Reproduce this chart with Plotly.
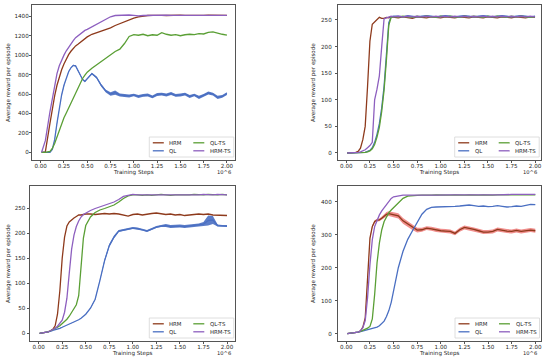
import plotly.graph_objects as go

# ---------------- data (x in units of 1e6 training steps) ----------------
STEPS = [0.01, 0.05, 0.10, 0.125, 0.15, 0.175, 0.20, 0.225, 0.25, 0.275, 0.30, 0.325,
         0.35, 0.375, 0.40, 0.425, 0.45, 0.475, 0.50, 0.55, 0.60, 0.65, 0.70, 0.75,
         0.80, 0.85, 0.90, 0.95, 1.00, 1.05, 1.10, 1.15, 1.20, 1.25, 1.30, 1.35, 1.40,
         1.45, 1.50, 1.55, 1.60, 1.65, 1.70, 1.75, 1.80, 1.85, 1.90, 1.95, 2.00]

SERIES = ["HRM", "QL", "QL-TS", "HRM-TS"]

# Panel 1 (top-left)
P1_HRM = [0, 5, 300, 450, 580, 690, 780, 850, 910, 960, 1005, 1040, 1070, 1095, 1112, 1132,
          1152, 1170, 1188, 1215, 1232, 1245, 1262, 1280, 1305, 1325, 1345, 1365, 1382, 1395,
          1405, 1408, 1410, 1412, 1410, 1408, 1411, 1410, 1412, 1409, 1411, 1410, 1412, 1410,
          1411, 1409, 1412, 1410, 1410]
P1_QL = [0, 0, 0, 30, 130, 300, 450, 590, 690, 770, 830, 870, 895, 890, 840, 790, 750, 730,
         760, 810, 770, 690, 630, 600, 615, 590, 585, 580, 590, 575, 585, 590, 570, 595, 600,
         590, 605, 585, 590, 600, 575, 590, 565, 585, 610, 600, 565, 575, 605]
P1_QLTS = [0, 0, 10, 40, 90, 160, 230, 300, 355, 405, 455, 510, 565, 620, 670, 715, 760, 795,
           825, 865, 900, 935, 975, 1008, 1038, 1062, 1120, 1192, 1212, 1205, 1215, 1200, 1210,
           1205, 1232, 1215, 1205, 1212, 1200, 1210, 1215, 1212, 1222, 1218, 1235, 1240, 1225,
           1215, 1205]
P1_HRMTS = [0, 120, 420, 560, 700, 810, 890, 950, 1000, 1045, 1085, 1120, 1150, 1180, 1200,
            1220, 1240, 1255, 1265, 1290, 1320, 1345, 1370, 1395, 1408, 1412, 1414, 1413, 1410,
            1405, 1408, 1410, 1411, 1410, 1409, 1411, 1410, 1410, 1411, 1409, 1410, 1411, 1410,
            1410, 1411, 1410, 1409, 1410, 1410]
P1_QL_SPREAD = [0, 0, 0, 3, 5, 6, 6, 6, 6, 6, 6, 6, 6, 6, 6, 8, 8, 8, 8, 10, 10, 12, 14, 18,
                22, 16, 14, 16, 14, 16, 14, 16, 14, 16, 14, 16, 16, 14, 16, 14, 16, 14, 16, 14,
                16, 14, 16, 14, 14]

# Panel 2 (top-right)
P2_HRM = [0, 0, 1, 3, 9, 25, 50, 125, 210, 242, 246, 250, 255, 253, 253, 255, 254, 256, 255,
          254, 256, 255, 253, 256, 255, 254, 256, 255, 254, 256, 255, 254, 256, 255, 254, 256,
          255, 254, 256, 255, 254, 256, 255, 254, 256, 255, 254, 256, 255]
P2_QL = [0, 0, 0, 0, 0, 1, 1, 3, 5, 10, 20, 35, 55, 85, 125, 185, 245, 256, 257, 257, 256,
         258, 257, 256, 257, 258, 257, 256, 257, 258, 257, 256, 257, 258, 257, 256, 257, 258,
         257, 256, 257, 258, 257, 256, 257, 258, 257, 256, 257]
P2_QLTS = [0, 0, 0, 0, 0, 0, 1, 2, 4, 8, 16, 30, 48, 78, 118, 175, 240, 255, 256, 256, 257,
           256, 255, 257, 256, 257, 256, 255, 257, 256, 257, 256, 255, 257, 256, 257, 256, 255,
           257, 256, 257, 256, 255, 257, 256, 257, 256, 255, 256]
P2_HRMTS = [0, 0, 0, 1, 2, 4, 6, 10, 14, 20, 100, 120, 145, 200, 252, 254, 256, 257, 256, 257,
            256, 257, 256, 257, 256, 257, 256, 257, 256, 257, 256, 257, 256, 257, 256, 257, 256,
            257, 256, 257, 256, 257, 256, 257, 256, 257, 256, 257, 256]

# Panel 3 (bottom-left)
P3_HRM = [0, 1, 3, 5, 8, 15, 38, 85, 150, 192, 214, 222, 227, 230, 233, 236, 236, 237, 238,
          238, 237, 238, 239, 238, 239, 238, 236, 234, 237, 238, 236, 238, 239, 240, 238, 237,
          238, 236, 237, 235, 236, 237, 238, 237, 238, 236, 236, 235, 235]
P3_QL = [0, 1, 3, 4, 6, 7, 9, 10, 12, 14, 16, 18, 20, 22, 24, 27, 30, 34, 38, 50, 68, 105,
         145, 175, 192, 204, 206, 208, 210, 209, 207, 204, 208, 212, 214, 215, 213, 214, 214,
         213, 214, 215, 216, 218, 225, 226, 215, 214, 214]
P3_QLTS = [0, 1, 3, 5, 7, 9, 12, 15, 19, 23, 28, 34, 41, 48, 57, 75, 125, 190, 215, 232, 241,
           246, 249, 253, 256, 262, 269, 274, 276, 276, 275, 276, 275, 276, 277, 276, 275, 276,
           276, 275, 276, 277, 276, 276, 277, 276, 276, 277, 276]
P3_HRMTS = [0, 1, 3, 5, 7, 10, 14, 19, 26, 42, 70, 120, 168, 196, 213, 224, 232, 237, 240,
            245, 249, 252, 255, 258, 262, 267, 273, 275, 277, 276, 276, 275, 275, 276, 276, 275,
            276, 276, 275, 276, 276, 275, 276, 277, 276, 276, 277, 276, 276]
P3_QL_SPREAD = [0, 0, 0, 0, 0, 0, 0, 0, 0, 0, 0, 0, 0, 0, 0, 0, 0, 0, 0, 1, 1, 2, 3, 3, 3, 2,
                2, 2, 2, 2, 2, 2, 2, 2, 2, 3, 3, 3, 3, 3, 3, 3, 3, 4, 10, 8, 2, 2, 2]

# Panel 4 (bottom-right)
P4_HRM = [0, 1, 3, 5, 9, 20, 48, 160, 290, 325, 340, 344, 345, 350, 357, 362, 364, 362, 360,
          357, 342, 332, 322, 314, 315, 320, 318, 314, 312, 311, 310, 304, 315, 322, 320, 316,
          312, 308, 308, 310, 316, 313, 311, 310, 313, 310, 312, 314, 312]
P4_QL = [0, 1, 3, 5, 6, 8, 10, 11, 12, 14, 17, 20, 24, 30, 38, 52, 70, 95, 130, 200, 250, 286,
         312, 338, 362, 377, 383, 384, 384, 385, 386, 386, 387, 389, 390, 388, 386, 387, 385,
         386, 388, 386, 384, 385, 387, 386, 390, 392, 391]
P4_QLTS = [0, 1, 3, 5, 7, 10, 13, 17, 22, 45, 120, 215, 275, 315, 340, 355, 367, 375, 382, 396,
           410, 417, 419, 419, 420, 419, 420, 421, 420, 419, 420, 421, 420, 420, 421, 420, 420,
           421, 420, 420, 421, 420, 421, 421, 420, 421, 421, 422, 421]
P4_HRMTS = [0, 1, 3, 5, 9, 18, 40, 110, 210, 285, 325, 345, 360, 372, 382, 392, 402, 410, 415,
            418, 420, 420, 419, 420, 420, 421, 420, 420, 421, 420, 421, 421, 420, 421, 421, 420,
            421, 421, 422, 421, 421, 422, 421, 422, 422, 421, 422, 422, 422]
P4_HRM_SPREAD = [0, 0, 0, 0, 0, 1, 2, 3, 4, 4, 4, 4, 4, 5, 6, 7, 7, 7, 7, 8, 9, 9, 8, 7, 6, 6,
                 6, 6, 6, 6, 6, 6, 6, 6, 6, 6, 6, 6, 6, 6, 6, 6, 6, 6, 6, 6, 6, 6, 6]

X_TICKS = [0.0, 0.25, 0.5, 0.75, 1.0, 1.25, 1.5, 1.75, 2.0]

# ---------------- styling ----------------
W, H = 550, 362
LINE = {"HRM": "#8e3a1c", "QL": "#4a6fc2", "QL-TS": "#5a9f35", "HRM-TS": "#8d5fbf"}
BAND = {"HRM": "rgba(228,50,45,0.55)", "QL": "rgba(74,111,194,0.9)",
        "QL-TS": "rgba(90,159,53,0.8)", "HRM-TS": "rgba(141,95,191,0.6)"}
FONT = "DejaVu Sans"
TXT = "#262626"
FS = 5.6


def px(x):
    return x / W


def py(y):
    return 1 - y / H


panels = [
    dict(box=(32.3, 5.3, 235.3, 160.0), xr=[-0.09, 2.09], yr=[-79, 1513],
         yt=[0, 200, 400, 600, 800, 1000, 1200, 1400], ystand=-1, ytitle=3,
         data={"HRM": P1_HRM, "QL": P1_QL, "QL-TS": P1_QLTS, "HRM-TS": P1_HRMTS},
         spread={"QL": P1_QL_SPREAD}),
    dict(box=(338.3, 5.3, 540.7, 160.0), xr=[-0.085, 2.06], yr=[-13.2, 277.6],
         yt=[0, 50, 100, 150, 200, 250], ystand=2, ytitle=5,
         data={"HRM": P2_HRM, "QL": P2_QL, "QL-TS": P2_QLTS, "HRM-TS": P2_HRMTS},
         spread={}),
    dict(box=(30.0, 186.3, 235.3, 341.0), xr=[-0.092, 2.088], yr=[-15.4, 293.3],
         yt=[0, 50, 100, 150, 200, 250], ystand=0, ytitle=3,
         data={"HRM": P3_HRM, "QL": P3_QL, "QL-TS": P3_QLTS, "HRM-TS": P3_HRMTS},
         spread={"QL": P3_QL_SPREAD}),
    dict(box=(338.3, 186.3, 541.0, 341.0), xr=[-0.085, 2.06], yr=[-22.1, 446.7],
         yt=[0, 100, 200, 300, 400], ystand=2, ytitle=5,
         data={"HRM": P4_HRM, "QL": P4_QL, "QL-TS": P4_QLTS, "HRM-TS": P4_HRMTS},
         spread={"HRM": P4_HRM_SPREAD}),
]

fig = go.Figure()
shapes = []
annotations = []

for i, p in enumerate(panels, start=1):
    sfx = "" if i == 1 else str(i)
    xa, ya = "x" + sfx, "y" + sfx
    x0, y0, x1, y1 = p["box"]

    for name in SERIES:
        vals = p["data"][name]
        if name in p["spread"]:
            s = p["spread"][name]
            upper = [v + d for v, d in zip(vals, s)]
            lower = [v - d for v, d in zip(vals, s)]
            fig.add_trace(go.Scatter(
                x=STEPS + STEPS[::-1], y=upper + lower[::-1], fill="toself",
                fillcolor=BAND[name], line=dict(width=0), mode="lines",
                hoverinfo="skip", showlegend=False, xaxis=xa, yaxis=ya))
        fig.add_trace(go.Scatter(
            x=STEPS, y=vals, mode="lines", name=name, showlegend=False,
            line=dict(color=LINE[name], width=1.3), xaxis=xa, yaxis=ya))

    axis_common = dict(showline=True, mirror=True, linecolor="#555555", linewidth=0.9,
                       ticks="outside", ticklen=2.5, tickwidth=0.7, tickcolor="#555555",
                       showgrid=False, zeroline=False, automargin=False,
                       tickfont=dict(family=FONT, size=FS, color=TXT))
    fig.update_layout(**{
        "xaxis" + sfx: dict(axis_common, domain=[px(x0), px(x1)], range=p["xr"],
                            anchor=ya, tickvals=X_TICKS, tickformat=".2f",
                            ticklabelstandoff=-2,
                            title=dict(text="Training Steps", standoff=1,
                                       font=dict(family=FONT, size=FS, color=TXT))),
        "yaxis" + sfx: dict(axis_common, domain=[py(y1), py(y0)], range=p["yr"],
                            anchor=xa, tickvals=p["yt"], ticklabelstandoff=p["ystand"],
                            title=dict(text="Average reward per episode",
                                       standoff=p["ytitle"],
                                       font=dict(family=FONT, size=FS, color=TXT))),
    })

    # offset label for x axis
    annotations.append(dict(x=px(x1 - 2), y=py(y1 + 11.5), xref="paper", yref="paper",
                            text="10^6", showarrow=False, xanchor="right", yanchor="middle",
                            font=dict(family=FONT, size=FS - 0.4, color=TXT)))

    # legend (2 columns, lower right)
    L, R = x1 - 86.0, x1 - 1.5
    B = y1 - 3.0
    T = B - 20.0
    shapes.append(dict(type="rect", xref="paper", yref="paper",
                       x0=px(L), x1=px(R), y0=py(B), y1=py(T),
                       line=dict(color="#d6d6d6", width=0.8),
                       fillcolor="rgba(255,255,255,0.85)", layer="above"))
    cols = [("HRM", 0, 0), ("QL", 0, 1), ("QL-TS", 1, 0), ("HRM-TS", 1, 1)]
    for name, c, r in cols:
        lx = L + 3.5 + c * 40.5
        ly = T + 5.8 + r * 8.0
        shapes.append(dict(type="line", xref="paper", yref="paper",
                           x0=px(lx), x1=px(lx + 11), y0=py(ly), y1=py(ly),
                           line=dict(color=LINE[name], width=1.3), layer="above"))
        annotations.append(dict(x=px(lx + 14.5), y=py(ly), xref="paper", yref="paper",
                                text=name, showarrow=False, xanchor="left",
                                yanchor="middle",
                                font=dict(family=FONT, size=5.4, color=TXT)))

fig.update_layout(width=W, height=H, margin=dict(l=0, r=0, t=0, b=0),
                  paper_bgcolor="white", plot_bgcolor="white", showlegend=False,
                  shapes=shapes, annotations=annotations)

fig.write_html("out.html", config={"displayModeBar": False},
               post_script="document.body.style.margin='0';"
                           "document.body.style.overflow='hidden';")
